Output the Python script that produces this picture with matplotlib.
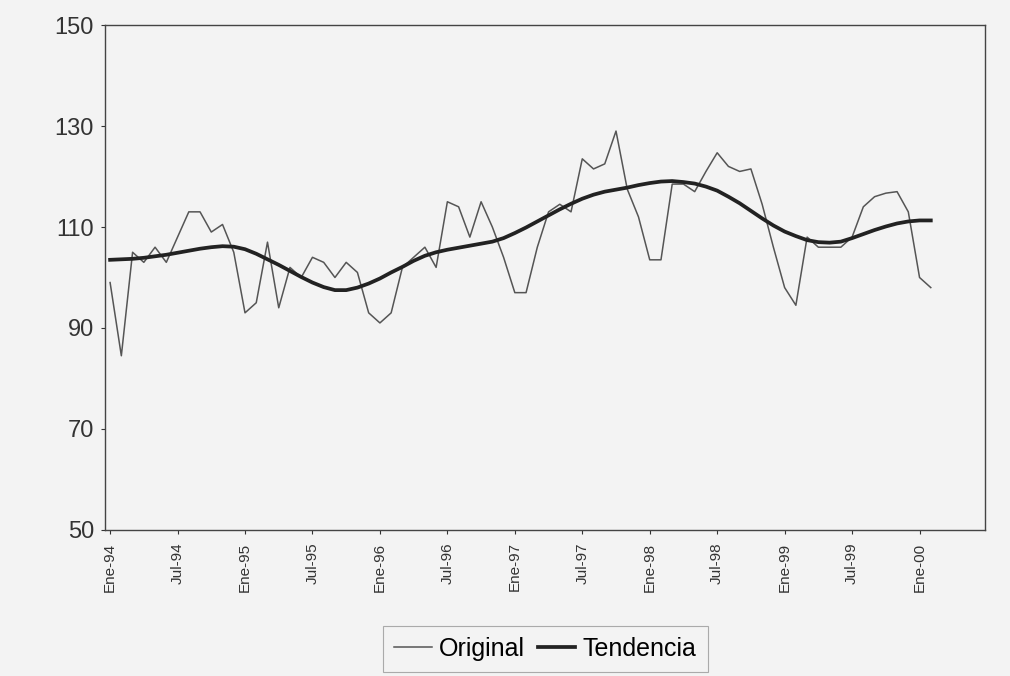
import matplotlib
matplotlib.use("Agg")
import matplotlib.pyplot as plt
import numpy as np

plt.rcParams.update({"font.family": ["Liberation Sans", "DejaVu Sans"]})

# monthly index, Ene-94 .. Feb-00
original = [99, 84.5, 105, 103, 106, 103, 108, 113, 113, 109, 110.5, 105,
            93, 95, 107, 94, 102, 100, 104, 103, 100, 103, 101, 93,
            91, 93, 102, 104, 106, 102, 115, 114, 108, 115, 110, 104,
            97, 97, 106, 113, 114.5, 113, 123.5, 121.5, 122.5, 129, 117.5, 112,
            103.5, 103.5, 118.5, 118.5, 117, 121, 124.7, 122, 121, 121.5, 114.5, 106,
            98, 94.5, 108, 106, 106, 106, 108, 114, 116, 116.7, 117, 113,
            100, 98]
tendencia = [103.5, 103.6, 103.7, 103.9, 104.2, 104.5, 104.9, 105.3, 105.7, 106.0, 106.2, 106.1,
             105.6, 104.7, 103.6, 102.5, 101.3, 100.1, 99.0, 98.1, 97.5, 97.5, 98.0, 98.8,
             99.8, 101.0, 102.1, 103.3, 104.3, 105.0, 105.5, 105.9, 106.3, 106.7, 107.1, 107.8,
             108.8, 109.9, 111.1, 112.3, 113.5, 114.6, 115.6, 116.4, 117.0, 117.4, 117.8, 118.3,
             118.7, 119.0, 119.1, 118.9, 118.6, 118.0, 117.2, 116.0, 114.7, 113.2, 111.7, 110.3,
             109.1, 108.2, 107.4, 107.0, 106.9, 107.1, 107.8, 108.6, 109.4, 110.1, 110.7, 111.1,
             111.3, 111.3]
tick_labels = ["Ene-94", "Jul-94", "Ene-95", "Jul-95", "Ene-96", "Jul-96", "Ene-97",
               "Jul-97", "Ene-98", "Jul-98", "Ene-99", "Jul-99", "Ene-00"]

BG = "#f3f3f3"
x = np.arange(len(original))

fig = plt.figure(figsize=(10.1, 6.76), dpi=100, facecolor=BG)
ax = fig.add_axes([0.104, 0.216, 0.871, 0.747], facecolor=BG)

ax.plot(x, original, color="#555555", lw=1.1, label="Original")
ax.plot(x, tendencia, color="#222222", lw=2.7, label="Tendencia")

ax.set_xlim(-0.45, 77.8)
ax.set_ylim(50, 150)
ax.set_yticks(range(50, 151, 20))
ax.set_xticks(np.arange(0, 73, 6))
ax.set_xticklabels(tick_labels, rotation=90, fontsize=11, color="#333333")
ax.tick_params(axis="y", labelsize=17, colors="#333333", length=3, pad=5)
ax.tick_params(axis="x", length=3, pad=6, colors="#333333")
for s in ax.spines.values():
    s.set_color("#444444")
    s.set_linewidth(1.0)

leg = fig.legend(loc="center", bbox_to_anchor=(0.54, 0.04), ncol=2, fontsize=18,
                 handlelength=1.5, handletextpad=0.3, columnspacing=0.5,
                 fancybox=False, edgecolor="#aaaaaa", facecolor=BG, framealpha=1,
                 borderpad=0.45)
leg.get_frame().set_linewidth(0.8)

fig.savefig("out.png", dpi=100, facecolor=BG)
